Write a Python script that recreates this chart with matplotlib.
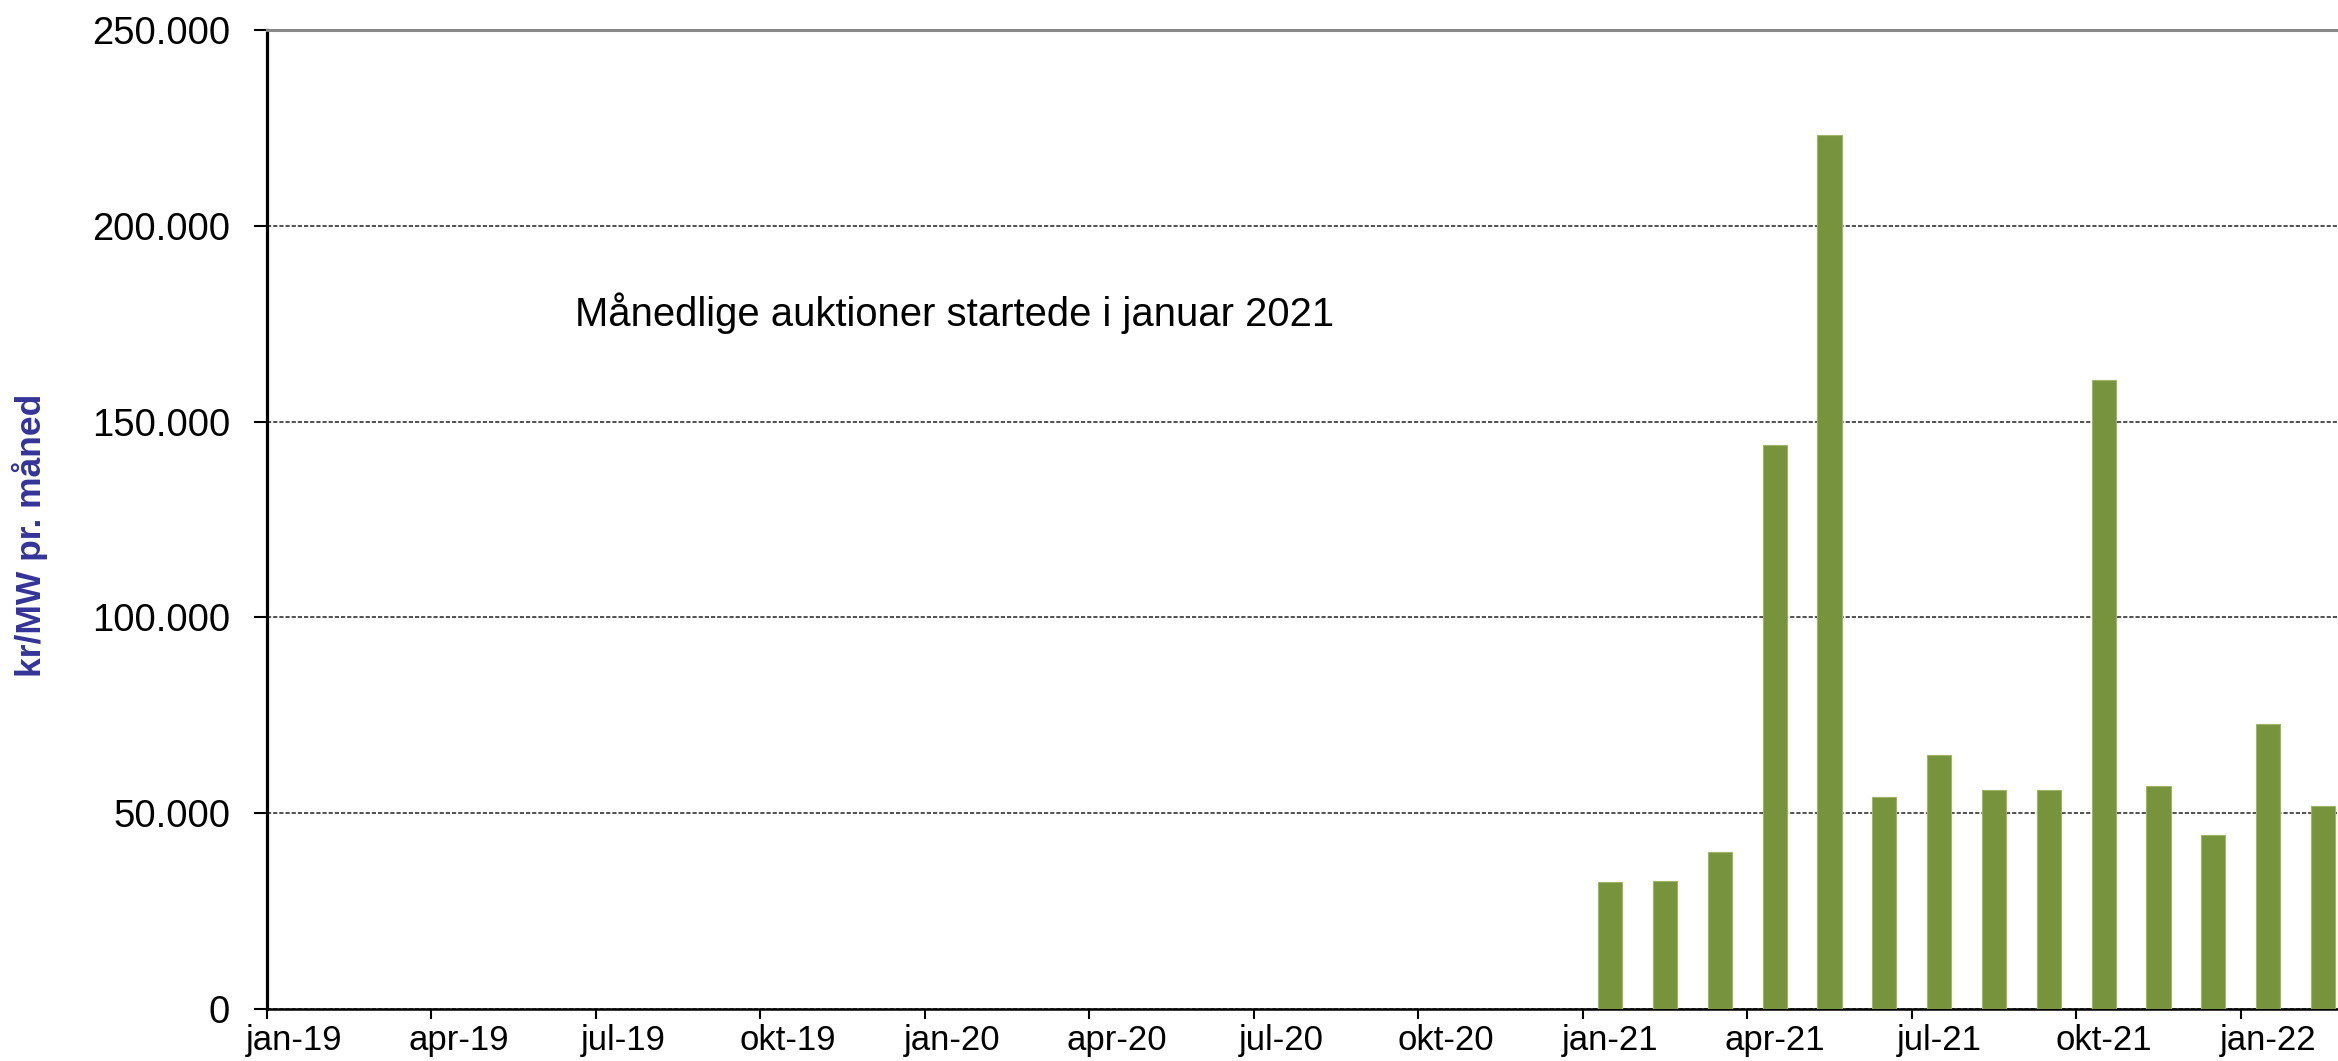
import numpy as np
import matplotlib
matplotlib.use('Agg')
import matplotlib.pyplot as plt
from matplotlib.ticker import FuncFormatter

plt.rcParams['font.family'] = ['Liberation Sans', 'DejaVu Sans']

# month axis: jan-19 .. feb-22
month_abbr = ['jan', 'feb', 'mar', 'apr', 'maj', 'jun',
              'jul', 'aug', 'sep', 'okt', 'nov', 'dec']
years = ['19', '20', '21', '22']
n_months = 38
all_months = [m + '-' + y for y in years for m in month_abbr][:n_months]

# monthly auction results (kr/MW pr. måned), starting jan-21
auction_months = ['jan-21', 'feb-21', 'mar-21', 'apr-21', 'maj-21', 'jun-21',
                  'jul-21', 'aug-21', 'sep-21', 'okt-21', 'nov-21', 'dec-21',
                  'jan-22', 'feb-22']
prices = [32400, 32800, 40200, 144100, 223200, 54100,
          64900, 56000, 56000, 160600, 57000, 44500,
          72800, 51900]

y_ticks = [0, 50000, 100000, 150000, 200000, 250000]
note = 'Månedlige auktioner startede i januar 2021'

fig = plt.figure(figsize=(23.38, 10.61), dpi=100)
ax = fig.add_axes([0.1142, 0.0490, 0.8911, 0.9227])

x = np.array([all_months.index(m) for m in auction_months]) + 0.5
ax.bar(x, prices, width=0.44, color='#77933C', edgecolor='#9db565',
       linewidth=0.8, zorder=3)

ax.set_xlim(0, n_months)
ax.set_ylim(0, 250000)

# quarter ticks on month boundaries, labels centred in the month
q_idx = list(range(0, n_months, 3))
ax.set_xticks(q_idx)
ax.set_xticklabels([])
ax.set_xticks([i + 0.5 for i in q_idx], minor=True)
ax.set_xticklabels([all_months[i] for i in q_idx], minor=True, fontsize=25)
ax.tick_params(axis='x', which='major', direction='out', length=7.5,
               width=1.5, color='black')
ax.tick_params(axis='x', which='minor', length=0, pad=11)

ax.set_yticks(y_ticks)
ax.yaxis.set_major_formatter(FuncFormatter(
    lambda v, p: '0' if v == 0 else f'{int(v):,}'.replace(',', '.')))
ax.tick_params(axis='y', direction='out', length=9.5, width=1.5,
               labelsize=27.5, pad=17)

ax.grid(axis='y', color='#333333', linestyle=(0, (2.5, 1.2)),
        linewidth=1.2, zorder=0)

ax.spines['left'].set_linewidth(2.3)
ax.spines['left'].set_color('black')
ax.spines['bottom'].set_linewidth(1.8)
ax.spines['bottom'].set_color('black')
ax.spines['top'].set_color('#888888')
ax.spines['top'].set_linewidth(2.2)
ax.spines['right'].set_visible(False)

ax.text(5.62, 174300, note, fontsize=28.8, va='baseline', ha='left')

fig.text(0.0128, 0.4958, 'kr/MW pr. måned', rotation=90, ha='center',
         va='center', fontsize=25.5, fontweight='bold', color='#333399')

fig.savefig('out.png', dpi=100)
